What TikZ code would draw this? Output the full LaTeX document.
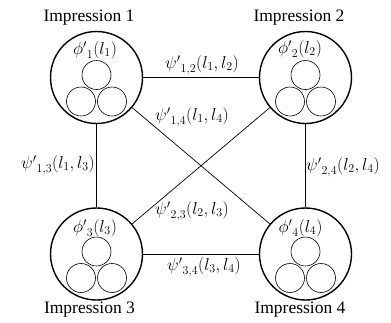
\documentclass[tikz,border=0pt]{standalone}
\usepackage{fontspec}
\setmainfont{Liberation Serif}
\begin{document}
\begin{tikzpicture}[x=1pt,y=-1pt,
  big/.style={circle,draw,line width=1.4pt,minimum size=92pt,inner sep=0pt},
  small/.style={circle,draw,line width=0.6pt,minimum size=29pt,inner sep=0pt},
  conn/.style={line width=0.7pt},
  imp/.style={font=\fontsize{17.5}{20}\selectfont,inner sep=0pt},
  lab/.style={font=\fontsize{18.5}{21}\selectfont,inner sep=0pt}]
\useasboundingbox (0,0) rectangle (391,322);
\foreach \n/\x/\y in {1/96.5/77.5, 2/305.5/77.5, 3/96.5/254, 4/305.5/254}{
  \node[big] (c\n) at (\x,\y) {};
  \node[small] (s\n a) at (\x,\y-2.5) {};
  \node[small] (s\n b) at (\x-15.5,\y+24) {};
  \node[small] (s\n c) at (\x+15.5,\y+24) {};
}
\node[lab] (p1) at (95,50) {${\phi'}_1(l_1)$};
\node[lab] (p2) at (300,49) {${\phi'}_2(l_2)$};
\node[lab] (p3) at (95,228) {${\phi'}_3(l_3)$};
\node[lab] (p4) at (300.5,228) {${\phi'}_4(l_4)$};
\node[imp] (i1) at (89,18) {Impression 1};
\node[imp] (i2) at (299,18) {Impression 2};
\node[imp] (i3) at (89.5,310) {Impression 3};
\node[imp] (i4) at (300,310) {Impression 4};
\draw[conn] (c1) -- (c2);
\draw[conn] (c1) -- (c3);
\draw[conn] (c2) -- (c4);
\draw[conn] (c3) -- (c4);
\draw[conn] (c1) -- (c4);
\draw[conn] (c2) -- (c3);
\node[lab] (e12) at (202,65) {${\psi'}_{1,2}(l_1,l_2)$};
\node[lab] (e14) at (192,117) {${\psi'}_{1,4}(l_1,l_4)$};
\node[lab,anchor=east] (e13) at (95,165) {${\psi'}_{1,3}(l_1,l_3)$};
\node[lab,anchor=west] (e24) at (306,167) {${\psi'}_{2,4}(l_2,l_4)$};
\node[lab] (e23) at (192,211) {${\psi'}_{2,3}(l_2,l_3)$};
\node[lab] (e34) at (204,267) {${\psi'}_{3,4}(l_3,l_4)$};
\end{tikzpicture}
\end{document}
